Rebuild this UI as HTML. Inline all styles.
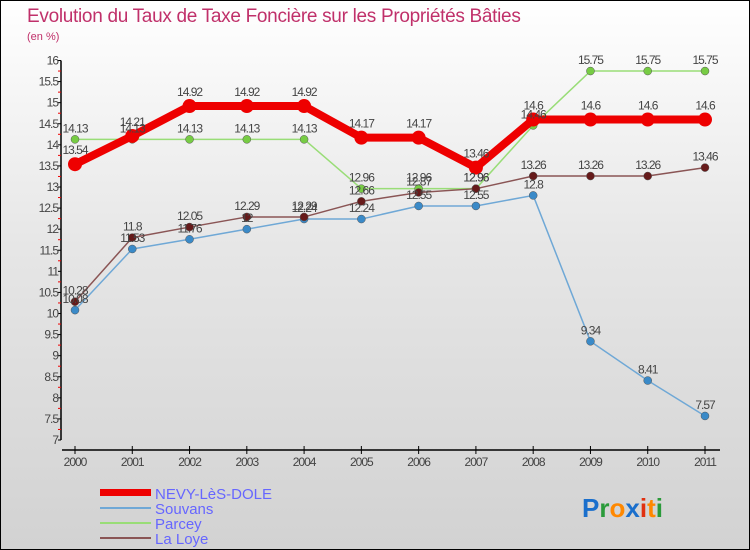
<!DOCTYPE html>
<html><head><meta charset="utf-8"><style>
body{margin:0}
#c{width:750px;height:550px;position:relative;overflow:hidden;background:linear-gradient(#fff 0%,#e6e6e6 45%,#d2d2d2 100%);box-sizing:border-box;border:1px solid #000;font-family:"Liberation Sans",sans-serif}
svg text{font-family:"Liberation Sans",sans-serif}
</style></head><body>
<div id="c">
<svg id="s" width="750" height="550" style="position:absolute;left:-1px;top:-1px">
<text x="27" y="22" font-size="19" fill="#c0306a" letter-spacing="-0.3">Evolution du Taux de Taxe Foncière sur les Propriétés Bâties</text>
<text x="27" y="40" font-size="11" fill="#c0306a">(en %)</text>
<g id="ax"></g><g id="ser"></g><g id="lab"></g>
<g>
<rect x="100" y="489" width="51" height="7" fill="#e00"/>
<text x="155" y="499" font-size="15" fill="#6666ff">NEVY-LèS-DOLE</text>
<line x1="100" y1="508" x2="151" y2="508" stroke="#6fa8d6" stroke-width="2"/>
<text x="155" y="514" font-size="15" fill="#6666ff">Souvans</text>
<line x1="100" y1="523" x2="151" y2="523" stroke="#99dd77" stroke-width="2"/>
<text x="155" y="529" font-size="15" fill="#6666ff">Parcey</text>
<line x1="100" y1="538" x2="151" y2="538" stroke="#8a5555" stroke-width="2"/>
<text x="155" y="544" font-size="15" fill="#6666ff">La Loye</text>
</g>
<g font-size="26" font-weight="bold">
<text x="582" y="517"><tspan fill="#1a6fcc">P</tspan><tspan fill="#2a9a3a">r</tspan><tspan fill="#ff8800">o</tspan><tspan fill="#1a6fcc">x</tspan><tspan fill="#e03010">i</tspan><tspan fill="#ff8800">t</tspan><tspan fill="#2a9a3a">i</tspan></text>
</g>
</svg>
</div>
<script>
const years=[2000,2001,2002,2003,2004,2005,2006,2007,2008,2009,2010,2011];
const nevy=[13.54,14.21,14.92,14.92,14.92,14.17,14.17,13.46,14.6,14.6,14.6,14.6];
const souvans=[10.08,11.53,11.76,12,12.24,12.24,12.55,12.55,12.8,9.34,8.41,7.57];
const parcey=[14.13,14.13,14.13,14.13,14.13,12.96,12.96,12.96,14.46,15.75,15.75,15.75];
const laloye=[10.28,11.8,12.05,12.29,12.29,12.66,12.87,12.96,13.26,13.26,13.26,13.46];
const yTicks=[7,7.5,8,8.5,9,9.5,10,10.5,11,11.5,12,12.5,13,13.5,14,14.5,15,15.5,16];
const NS='http://www.w3.org/2000/svg';
function X(i){return 75+i*(630/(years.length-1));}
function Y(v){return 60.5+(16-v)*(379.5/9);}
function mk(t,a,p){const e=document.createElementNS(NS,t);for(const k in a)e.setAttribute(k,a[k]);p.appendChild(e);return e;}
const ax=document.getElementById('ax');
let e=mk('line',{x1:61,y1:Y(16),x2:61,y2:Y(7),stroke:'#000','stroke-width':1.5},ax);


yTicks.forEach(v=>{
 mk('line',{x1:58,y1:Y(v),x2:61,y2:Y(v),stroke:'#000'},ax);
 mk('line',{x1:58,y1:Y(v+0.25),x2:61,y2:Y(v+0.25),stroke:v<16?'#e00':'none'},ax);
 const t=mk('text',{x:58,y:Y(v)+4,'font-size':12,fill:'#444','text-anchor':'end','letter-spacing':'-1'},ax);t.textContent=v;
 
 
});
e=mk('line',{x1:62,y1:450,x2:720,y2:450,stroke:'#000','stroke-width':1.5},ax);


years.forEach((y,i)=>{
 mk('line',{x1:X(i),y1:446,x2:X(i),y2:454,stroke:'#000'},ax);
 const t=mk('text',{x:X(i),y:466,'font-size':12,fill:'#444','text-anchor':'middle','letter-spacing':'-1'},ax);t.textContent=y;
 
 
});
const ser=document.getElementById('ser'),lab=document.getElementById('lab');
function series(d,name,col,w,r,pcol,lo){
 const g=mk('g',{},ser);
 
 
 mk('polyline',{points:d.map((v,i)=>X(i)+','+Y(v)).join(' '),fill:'none',stroke:col,'stroke-width':w,'stroke-linejoin':'round'},g);
 d.forEach((v,i)=>{
  const c=mk('circle',{cx:X(i),cy:Y(v),r:r,fill:pcol,stroke:w>3?'none':'#555','stroke-width':0.5},g);
  
  
  const t=mk('text',{x:X(i),y:Y(v)-lo,'font-size':12,fill:'#444','text-anchor':'middle','letter-spacing':'-1'},lab);t.textContent=v;
  
  
 });
}
series(souvans,'souvans','#6fa8d6',1.5,4,'#3a8ac8',7);
series(parcey,'parcey','#99dd77',1.5,4,'#77cc44',7);
series(laloye,'laloye','#8a5555',1.5,4,'#661a1a',7);
series(nevy,'nevy','#e00',8,7,'#e00',10);
</script>
</body></html>
